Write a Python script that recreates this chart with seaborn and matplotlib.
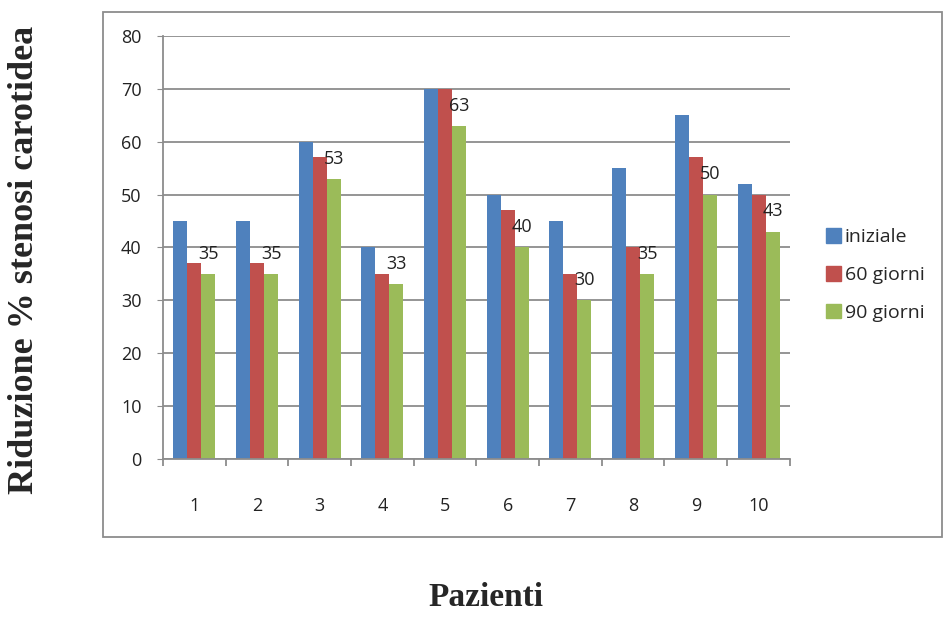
import numpy as np
import pandas as pd
import matplotlib
matplotlib.use("Agg")
import matplotlib.pyplot as plt
import matplotlib.patches as mpatches
import seaborn as sns

# Data
patients = ["1", "2", "3", "4", "5", "6", "7", "8", "9", "10"]
iniziale = [45, 45, 60, 40, 70, 50, 45, 55, 65, 52]
giorni_60 = [37, 37, 57, 35, 70, 47, 35, 40, 57, 50]
giorni_90 = [35, 35, 53, 33, 63, 40, 30, 35, 50, 43]
series = ["iniziale", "60 giorni", "90 giorni"]
colors = ["#4F81BD", "#C0504D", "#9BBB59"]

data = pd.DataFrame({
    "Paziente": patients * 3,
    "Valore": iniziale + giorni_60 + giorni_90,
    "Serie": [series[0]] * 10 + [series[1]] * 10 + [series[2]] * 10,
})

sns.set_style("white")
plt.rcParams["font.family"] = ["Open Sans", "DejaVu Sans"]

fig = plt.figure(figsize=(9.44, 6.17), dpi=100)
ax = fig.add_axes([0.1727, 0.256, 0.664, 0.686])

sns.barplot(data=data, x="Paziente", y="Valore", hue="Serie",
            palette=colors, width=0.67, saturation=1, linewidth=0,
            ax=ax, legend=False)

ax.set_ylim(0, 80)
ax.set_xlim(-0.5, 9.5)
ax.set_yticks(np.arange(0, 81, 10))
ax.yaxis.grid(True, color="#8c8c8c", linewidth=1.3)
ax.set_axisbelow(True)

for side in ["top", "right"]:
    ax.spines[side].set_visible(False)
for side in ["left", "bottom"]:
    ax.spines[side].set_color("#8c8c8c")
    ax.spines[side].set_linewidth(1.3)

ax.tick_params(axis="y", length=4.5, color="#8c8c8c", labelsize=13,
               labelcolor="#222222", pad=11, left=True)
ax.tick_params(axis="x", which="major", length=0, labelsize=13,
               labelcolor="#222222", pad=27)
ax.set_xticks(np.arange(-0.5, 10, 1), minor=True)
ax.tick_params(axis="x", which="minor", length=5, color="#8c8c8c",
               width=1.3, bottom=True)

# labels on the 90 giorni bars
ax.bar_label(ax.containers[2], labels=[str(v) for v in giorni_90],
             padding=8, fontsize=13, color="#222222")

ax.set_xlabel("")
ax.set_ylabel("")

fig.text(0.026, 1 - 260 / 617, "Riduzione % stenosi carotidea", rotation=90,
         ha="center", va="center", fontsize=26, fontweight="bold",
         family="Liberation Serif")
fig.text(486 / 944, 0.006, "Pazienti", ha="center", va="bottom",
         fontsize=24, fontweight="bold", family="Liberation Serif")

# outer chart frame
frame = mpatches.Rectangle((103 / 944, 1 - 537 / 617), 839 / 944, 525 / 617,
                           transform=fig.transFigure, fill=False,
                           edgecolor="#8c8c8c", linewidth=1.3)
fig.patches.append(frame)

handles = [mpatches.Patch(color=c, label=s) for c, s in zip(colors, series)]
fig.legend(handles=handles, loc="center left",
           bbox_to_anchor=(808 / 944, 1 - 275 / 617), frameon=False,
           handlelength=0.8, handleheight=0.8, handletextpad=0.2,
           labelspacing=1.0, fontsize=14)

plt.savefig("out.png", dpi=100)
